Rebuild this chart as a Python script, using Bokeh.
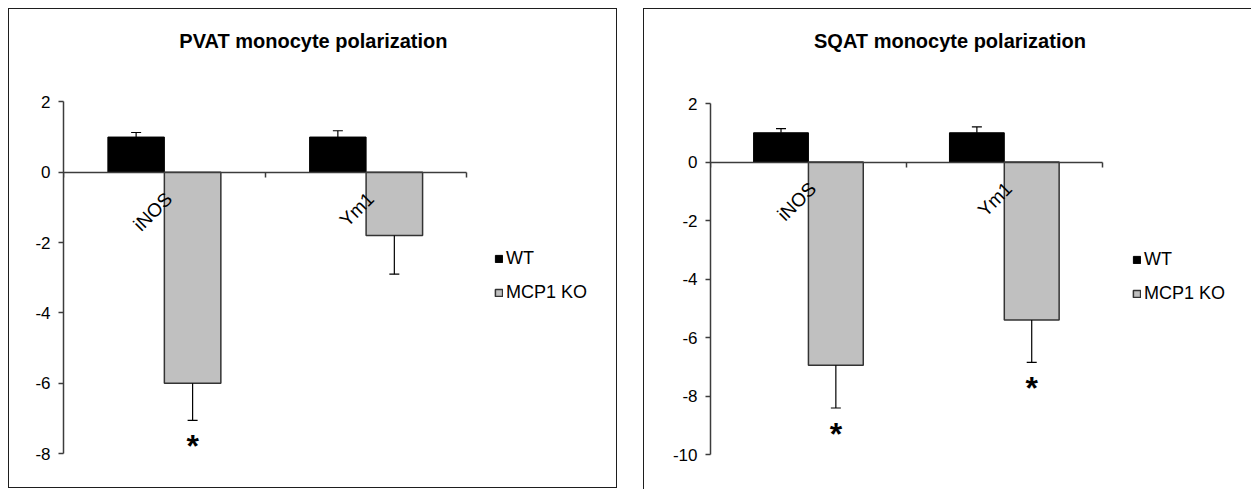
from math import pi
import numpy as np
from bokeh.plotting import figure
from bokeh.models import Range1d, FixedTicker, LinearAxis, Legend, LegendItem
from bokeh.layouts import row
from bokeh.embed import file_html
from bokeh.resources import INLINE
from bokeh.core.properties import value

# ---------------- data ----------------
categories = ["iNOS", "Ym1"]
series = ["WT", "MCP1 KO"]

pvat_title = "PVAT monocyte polarization"
pvat_wt = [1.0, 1.0]
pvat_wt_err = [0.13, 0.18]
pvat_ko = [-6.0, -1.8]
pvat_ko_err = [1.06, 1.1]
pvat_sig = [True, False]
pvat_yticks = [2, 0, -2, -4, -6, -8]

sqat_title = "SQAT monocyte polarization"
sqat_wt = [1.0, 1.0]
sqat_wt_err = [0.14, 0.2]
sqat_ko = [-6.95, -5.4]
sqat_ko_err = [1.46, 1.45]
sqat_sig = [True, True]
sqat_yticks = [2, 0, -2, -4, -6, -8, -10]

FONT = "Liberation Sans"
AXIS_COLOR = "#3c3c3c"
BORDER = "1px solid #1e1e1e"


def make_panel(title, wt, wt_err, ko, ko_err, sig, yticks, width, height, styles, bx, by,
               ml, mr, mt, mb, axis_px, axis_top_px, title_dx, title_dy, legend_loc):
    """bx/by: total border px eaten from width/height; axis_px: pixel length of the
    category axis; axis_top_px: pixels between frame top and top of the value axis."""
    n = len(categories)
    ymin, ymax = min(yticks), max(yticks)
    frame_w = (width - bx) - ml - mr
    frame_h = (height - by) - mt - mb
    axis_h = frame_h - axis_top_px
    yspan = ymax - ymin
    x_end = n * frame_w / axis_px
    y_end = ymax + yspan * axis_top_px / axis_h
    p = figure(width=width, height=height,
               x_range=Range1d(0, x_end), y_range=Range1d(ymin, y_end),
               output_backend="svg", toolbar_location=None, x_axis_location=None,
               min_border_left=ml, min_border_right=mr, min_border_top=mt, min_border_bottom=mb)
    p.grid.grid_line_color = None
    p.outline_line_color = None
    p.background_fill_color = "white"
    p.border_fill_color = "white"
    p.styles = styles

    bw = 0.28
    centers = np.arange(n) + 0.5
    wt_x = centers - bw / 2
    ko_x = centers + bw / 2
    wt_a = np.array(wt)
    ko_a = np.array(ko)
    wt_top = wt_a + np.array(wt_err)
    ko_bot = ko_a - np.array(ko_err)

    r_wt = p.vbar(x=wt_x, top=wt_a, bottom=0, width=bw, fill_color="black", line_color="black", line_width=1)
    r_ko = p.vbar(x=ko_x, top=0, bottom=ko_a, width=bw, fill_color="#c0c0c0", line_color="#333333", line_width=1.5)

    # error bars
    p.segment(x0=wt_x, y0=wt_a, x1=wt_x, y1=wt_top, line_color="black", line_width=1.2)
    p.scatter(x=wt_x, y=wt_top, marker="dash", size=10, line_color="black", line_width=1.2)
    p.segment(x0=ko_x, y0=ko_a, x1=ko_x, y1=ko_bot, line_color="black", line_width=1.2)
    p.scatter(x=ko_x, y=ko_bot, marker="dash", size=10, line_color="black", line_width=1.2)

    # significance asterisks
    sx = [x for x, s in zip(ko_x, sig) if s]
    sy = [y for y, s in zip(ko_bot, sig) if s]
    p.text(x=sx, y=sy, text=["*"] * len(sx), text_align="center", text_baseline="middle",
           y_offset=26, text_font=value(FONT), text_font_size="32px", text_font_style="bold",
           text_color="black")

    # category labels (rotated)
    p.text(x=centers, y=[0] * n, text=categories, angle=pi / 4, text_align="right",
           text_baseline="top", x_offset=-3, y_offset=16, text_font=value(FONT),
           text_font_size="19px", text_color="black")

    # chart title, placed in the room above the value axis
    tx = n * title_dx / axis_px
    ty = ymax + yspan * title_dy / axis_h
    p.text(x=[tx], y=[ty], text=[title], text_align="center", text_baseline="middle",
           text_font=value(FONT), text_font_size="20px", text_font_style="bold", text_color="black")

    # x axis at zero, spanning only the categories
    xaxis = LinearAxis(fixed_location=0, bounds=(0, n), ticker=FixedTicker(ticks=list(range(n + 1))),
                       major_label_overrides={i: "" for i in range(n + 1)},
                       major_tick_out=5, major_tick_in=0, minor_tick_out=0, minor_tick_in=0,
                       axis_line_color=AXIS_COLOR, major_tick_line_color=AXIS_COLOR,
                       axis_line_width=1.5, major_tick_line_width=1.5)
    p.add_layout(xaxis, "below")

    # y axis (line only over the tick range), ASCII hyphen minus signs as in the original
    ya = p.yaxis[0]
    ya.bounds = (ymin, ymax)
    ya.ticker = FixedTicker(ticks=yticks)
    ya.major_label_overrides = {t: str(t) for t in yticks}
    ya.major_tick_out = 5
    ya.major_tick_in = 0
    ya.minor_tick_out = 0
    ya.minor_tick_in = 0
    ya.axis_line_color = AXIS_COLOR
    ya.major_tick_line_color = AXIS_COLOR
    ya.axis_line_width = 1.5
    ya.major_tick_line_width = 1.5
    ya.major_label_text_font = FONT
    ya.major_label_text_font_size = "17px"
    ya.major_label_text_color = "black"
    ya.major_label_standoff = 8

    legend = Legend(items=[LegendItem(label=series[0], renderers=[r_wt]),
                           LegendItem(label=series[1], renderers=[r_ko])],
                    location=legend_loc, glyph_width=9, glyph_height=9, label_standoff=3,
                    spacing=13, padding=0, margin=0, border_line_color=None,
                    background_fill_alpha=0, label_text_font=FONT, label_text_font_size="18px",
                    label_text_color="black", label_height=20)
    p.add_layout(legend, "center")
    return p


p1 = make_panel(pvat_title, pvat_wt, pvat_wt_err, pvat_ko, pvat_ko_err, pvat_sig, pvat_yticks,
                width=609, height=480, styles={"border": BORDER}, bx=2, by=2,
                ml=54, mr=4, mt=4, mb=36, axis_px=402, axis_top_px=88,
                title_dx=249, title_dy=61, legend_loc=(431, 150))
p2 = make_panel(sqat_title, sqat_wt, sqat_wt_err, sqat_ko, sqat_ko_err, sqat_sig, sqat_yticks,
                width=608, height=481, styles={"border-top": BORDER, "border-left": BORDER}, bx=1, by=1,
                ml=66, mr=4, mt=4, mb=35, axis_px=391, axis_top_px=90,
                title_dx=239, title_dy=63, legend_loc=(422, 150))

layout = row(p1, p2, spacing=26, margin=(8, 0, 0, 8))
open("out.html", "w").write(file_html(layout, INLINE))
